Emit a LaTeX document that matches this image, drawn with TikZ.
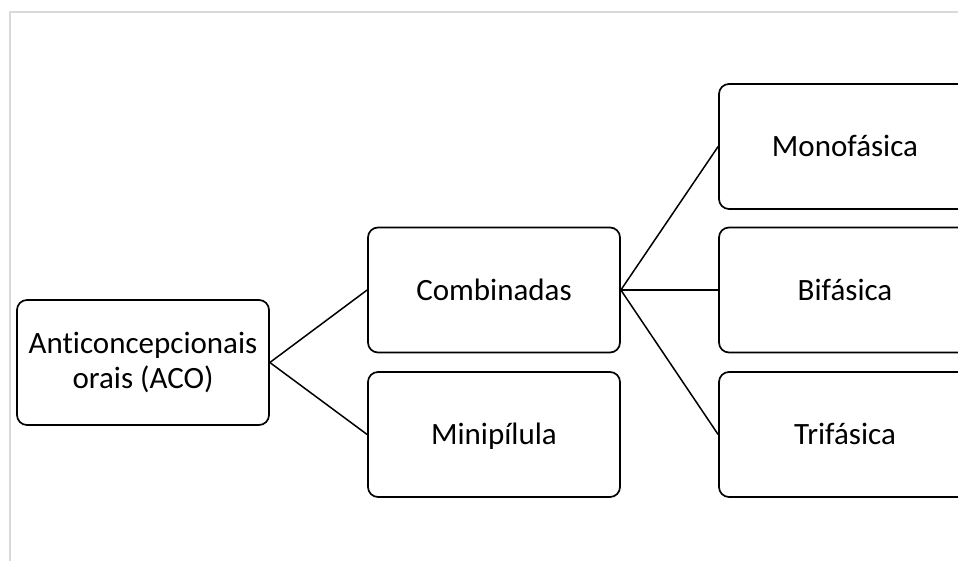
\documentclass[tikz,border=0pt]{standalone}
\usepackage{fontspec}
\setmainfont[Ligatures=NoCommon]{Carlito}
\usetikzlibrary{positioning}

\begin{document}
\begin{tikzpicture}[
  x=1pt, y=-1pt, % one unit per pixel of the page, y grows downward
  box/.style={draw, line width=1.7pt, rounded corners=10pt, minimum width=252pt, minimum height=125pt, align=center, font=\fontsize{31}{35}\selectfont, inner sep=2pt},
  onebox/.style={box, text height=25pt, text depth=5pt},
  link/.style={line width=1.5pt},
  pagebox/.style={draw=gray!30, line width=1.5pt}
]
  % page and the grey frame of the slide
  \clip (0,0) rectangle (958,561);
  \useasboundingbox (0,0) rectangle (958,561);
  \draw[pagebox] (10,600) -- (10,12) -- (1000,12);

  % root
  \node[box] (aco) at (143,362.5) {Anticoncepcionais\\orais (ACO)};

  % second level
  \node[onebox] (comb) at (494,290)   {Combinadas};
  \node[onebox] (mini) at (494,434.5) {Minipílula};

  % third level (cut by the right edge)
  \foreach \name/\yy/\txt in {mono/146.5/Monofásica, bif/290/Bifásica, tri/434.5/Trifásica} {
    \node[onebox] (\name) at (845,\yy) {\txt};
  }

  % connectors
  \draw[link] (aco.east) -- (comb.west);
  \draw[link] (aco.east) -- (mini.west);
  \foreach \name in {mono,bif,tri} \draw[link] (comb.east) -- (\name.west);
\end{tikzpicture}
\end{document}
